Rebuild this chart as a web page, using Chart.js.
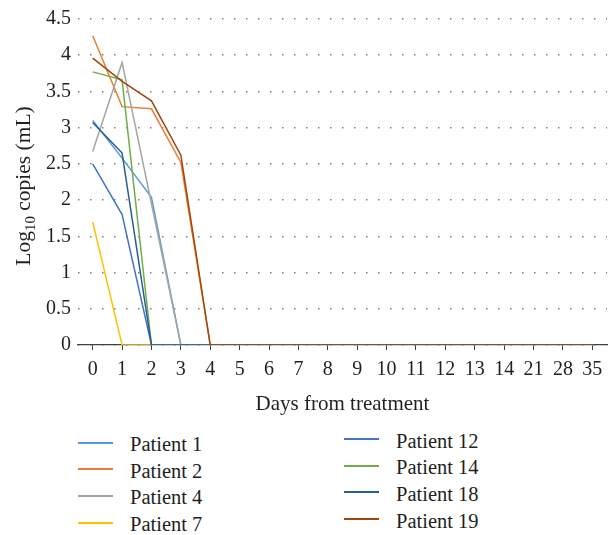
<!DOCTYPE html>
<html>
<head>
<meta charset="utf-8">
<script src="https://cdn.jsdelivr.net/npm/chart.js@4"></script>
<style>
  html, body { margin: 0; padding: 0; background: #fff; }
  #wrap { position: relative; width: 614px; height: 535px; }
  #cv { position: absolute; left: 0; top: 0; }
  .leg { position: absolute; left: 0; top: 0; width: 614px; font-family: "Liberation Serif", "DejaVu Serif", serif; font-size: 20.5px; color: #231f20; }
  .leg .ln { position: absolute; width: 35px; height: 2px; }
  .leg .tx { position: absolute; white-space: nowrap; line-height: 24px; }
</style>
</head>
<body>
<div id="wrap">
  <canvas id="cv" width="614" height="420" style="width:614px;height:420px"></canvas>
  <div id="legend" class="leg"></div>
</div>
<script>
const days = ["0","1","2","3","4","5","6","7","8","9","10","11","12","13","14","21","28","35"];
const yTicks = [0, 0.5, 1, 1.5, 2, 2.5, 3, 3.5, 4, 4.5];
const patients = ["Patient 1","Patient 2","Patient 4","Patient 7","Patient 12","Patient 14","Patient 18","Patient 19"];
const colors = ["#5B9BD5","#ED7D31","#A5A5A5","#FFC000","#4472C4","#70AD47","#255E91","#9E480E"];
const patient1  = [3.10, 2.58, 2.04, 0, 0, 0, 0, 0, 0, 0, 0, 0, 0, 0, 0, 0, 0, 0];
const patient2  = [4.27, 3.29, 3.26, 2.52, 0, 0, 0, 0, 0, 0, 0, 0, 0, 0, 0, 0, 0, 0];
const patient4  = [2.67, 3.90, 1.95, 0, 0, 0, 0, 0, 0, 0, 0, 0, 0, 0, 0, 0, 0, 0];
const patient7  = [1.70, 0, 0, 0, 0, 0, 0, 0, 0, 0, 0, 0, 0, 0, 0, 0, 0, 0];
const patient12 = [2.50, 1.80, 0, 0, 0, 0, 0, 0, 0, 0, 0, 0, 0, 0, 0, 0, 0, 0];
const patient14 = [3.77, 3.66, 0, 0, 0, 0, 0, 0, 0, 0, 0, 0, 0, 0, 0, 0, 0, 0];
const patient18 = [3.07, 2.65, 0, 0, 0, 0, 0, 0, 0, 0, 0, 0, 0, 0, 0, 0, 0, 0];
const patient19 = [3.96, 3.64, 3.37, 2.62, 0, 0, 0, 0, 0, 0, 0, 0, 0, 0, 0, 0, 0, 0];
const series = [patient1, patient2, patient4, patient7, patient12, patient14, patient18, patient19];

const FONT = '"Liberation Serif", "DejaVu Serif", serif';
const TXT = '#231f20';

const yTitlePlugin = {
  id: 'yTitle',
  afterDraw(chart) {
    const ctx = chart.ctx;
    ctx.save();
    ctx.translate(30, 186);
    ctx.rotate(-Math.PI / 2);
    ctx.fillStyle = TXT;
    ctx.textBaseline = 'alphabetic';
    const big = '21.5px ' + FONT, small = '15px ' + FONT;
    ctx.font = big; const w1 = ctx.measureText('Log').width;
    ctx.font = small; const w2 = ctx.measureText('10').width;
    ctx.font = big; const w3 = ctx.measureText(' copies (mL)').width;
    let x = -(w1 + w2 + w3) / 2;
    ctx.textAlign = 'left';
    ctx.font = big; ctx.fillText('Log', x, 0); x += w1;
    ctx.font = small; ctx.fillText('10', x, 5); x += w2;
    ctx.font = big; ctx.fillText(' copies (mL)', x, 0);
    ctx.restore();
  }
};

new Chart(document.getElementById('cv'), {
  type: 'line',
  data: {
    labels: days,
    datasets: series.map((d, i) => ({
      label: patients[i],
      data: d,
      borderColor: colors[i],
      backgroundColor: colors[i],
      borderWidth: 1.5,
      pointRadius: 0,
      tension: 0,
      order: series.length - i
    }))
  },
  options: {
    responsive: false,
    animation: false,
    layout: { padding: { top: 16, right: 7, left: 0, bottom: 0 } },
    plugins: { legend: { display: false }, tooltip: { enabled: false } },
    scales: {
      x: {
        offset: true,
        grid: { display: true, drawOnChartArea: false, drawTicks: true, tickLength: 5, color: '#404040', lineWidth: 1 },
        border: { display: true, color: '#404040', width: 1.3 },
        ticks: { color: TXT, font: { family: FONT, size: 20 }, padding: 8, maxRotation: 0, autoSkip: false },
        title: { display: true, text: 'Days from treatment', color: TXT, font: { family: FONT, size: 21 }, padding: { top: 4, bottom: 3 } },
        afterFit(s) { s.height = 75; }
      },
      y: {
        min: 0, max: 4.5,
        afterBuildTicks(s) { s.ticks = yTicks.map(v => ({ value: v })); },
        grid: { display: true, drawTicks: false, color: '#7f7f7f', lineWidth: 1.5 },
        border: { display: false, dash: [1.5, 10.5] },
        ticks: { color: TXT, font: { family: FONT, size: 20 }, padding: 7, callback: v => String(v) },
        afterFit(s) { s.width = 78; }
      }
    }
  },
  plugins: [yTitlePlugin]
});

// HTML legend built from the same arrays
const legend = document.getElementById('legend');
const cols = [{ lx: 78, tx: 130, y0: 442.5 }, { lx: 344, tx: 396, y0: 439 }];
patients.forEach((p, i) => {
  const c = cols[Math.floor(i / 4)];
  const y = c.y0 + (i % 4) * 26.7;
  const ln = document.createElement('div');
  ln.className = 'ln';
  ln.style.left = c.lx + 'px'; ln.style.top = (y - 1) + 'px'; ln.style.background = colors[i];
  const tx = document.createElement('div');
  tx.className = 'tx';
  tx.textContent = p;
  tx.style.left = c.tx + 'px'; tx.style.top = (y - 10.5) + 'px';
  legend.appendChild(ln); legend.appendChild(tx);
});
</script>
</body>
</html>
